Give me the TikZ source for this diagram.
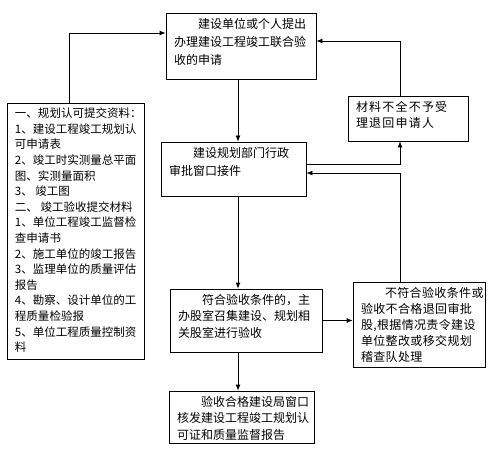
\documentclass[tikz,border=0pt]{standalone}
\usepackage{fontspec}
\setmainfont{Liberation Serif}
\newfontfamily\cjk{Noto Sans CJK SC}
\usetikzlibrary{positioning,arrows.meta,calc}
\newcommand{\cell}[3]{\parbox[c][\dimexpr#2bp-10bp\relax][t]{\dimexpr#1bp-16bp\relax}{#3}}

\begin{document}
\begin{tikzpicture}[x=1bp,y=-1bp,
  box/.style={draw,line width=0.8bp,inner xsep=8bp,inner ysep=5bp,
    font=\cjk\fontsize{12bp}{16.5bp}\selectfont},
  tall/.style={font=\cjk\fontsize{12bp}{18bp}\selectfont},
  loose/.style={font=\cjk\addfontfeature{LetterSpace=10}\fontsize{12bp}{16.5bp}\selectfont},
  list/.style={font=\cjk\fontsize{11.5bp}{15.6bp}\selectfont},
  link/.style={line width=0.8bp,-{Latex[length=6bp,width=5bp]}}]
  \useasboundingbox (0,0) rectangle (493,458);
  \node[box,tall] (apply) at (241,46) {\cell{150}{66}{\hspace*{2em}建设单位或个人提出\\办理建设工程竣工联合验\\收的申请}};
  \node[box,loose] (reject) at (408,118.5) {\cell{120}{45}{材料不全不予受\\理退回申请人}};
  \node[box,tall] (window) at (233.5,169) {\cell{145}{54}{\hspace*{2em}建设规划部门行政\\审批窗口接件}};
  \node[box] (check) at (246,320.5) {\cell{152}{63}{\hspace*{2em}符合验收条件的，主\\办股室召集建设、规划相\\关股室进行验收}};
  \node[box,font=\cjk\addfontfeature{LetterSpace=3}\fontsize{12bp}{16bp}\selectfont] (fail) at (419,324.5) {\cell{132}{85}{\hspace*{2em}不符合验收条件或\\验收不合格退回审批\\股,根据情况责令建设\\单位整改或移交规划\\稽查队处理}};
  \node[box] (issue) at (241.5,417) {\cell{145}{52}{\hspace*{2em}验收合格建设局窗口\\核发建设工程竣工规划认\\可证和质量监督报告}};
  \node[box,list] (docs) at (75.5,231) {\cell{137}{256}{一、规划认可提交资料：\\1、建设工程竣工规划认\\可申请表\\2、竣工时实测量总平面\\图、实测量面积\\3、 竣工图\\二、 竣工验收提交材料\\1、单位工程竣工监督检\\查申请书\\2、施工单位的竣工报告\\3、监理单位的质量评估\\报告\\4、勘察、设计单位的工\\程质量检验报\\5、单位工程质量控制资\\料}};
  \coordinate (trunk) at (238,0);
  \draw[link] (apply.south -| trunk) -- (window.north -| trunk);
  \draw[link] (window.south -| trunk) -- (check.north -| trunk);
  \draw[link] (check.south -| trunk) -- (issue.north -| trunk);
  \draw[link] ([xshift=-6.5bp]docs.north) |- ([yshift=13bp]apply.west);
  \draw[link] ([xshift=-8bp]reject.north) |- ([yshift=5bp]apply.east);
  \draw[link] ([yshift=5bp]window.east) -| ([xshift=-8bp]reject.south);
  \draw[link] ([xshift=-19bp]fail.north) |- ([yshift=-4bp]window.east);
  \draw[link] (check.east) -- (check.east -| fail.west);
\end{tikzpicture}
\end{document}
